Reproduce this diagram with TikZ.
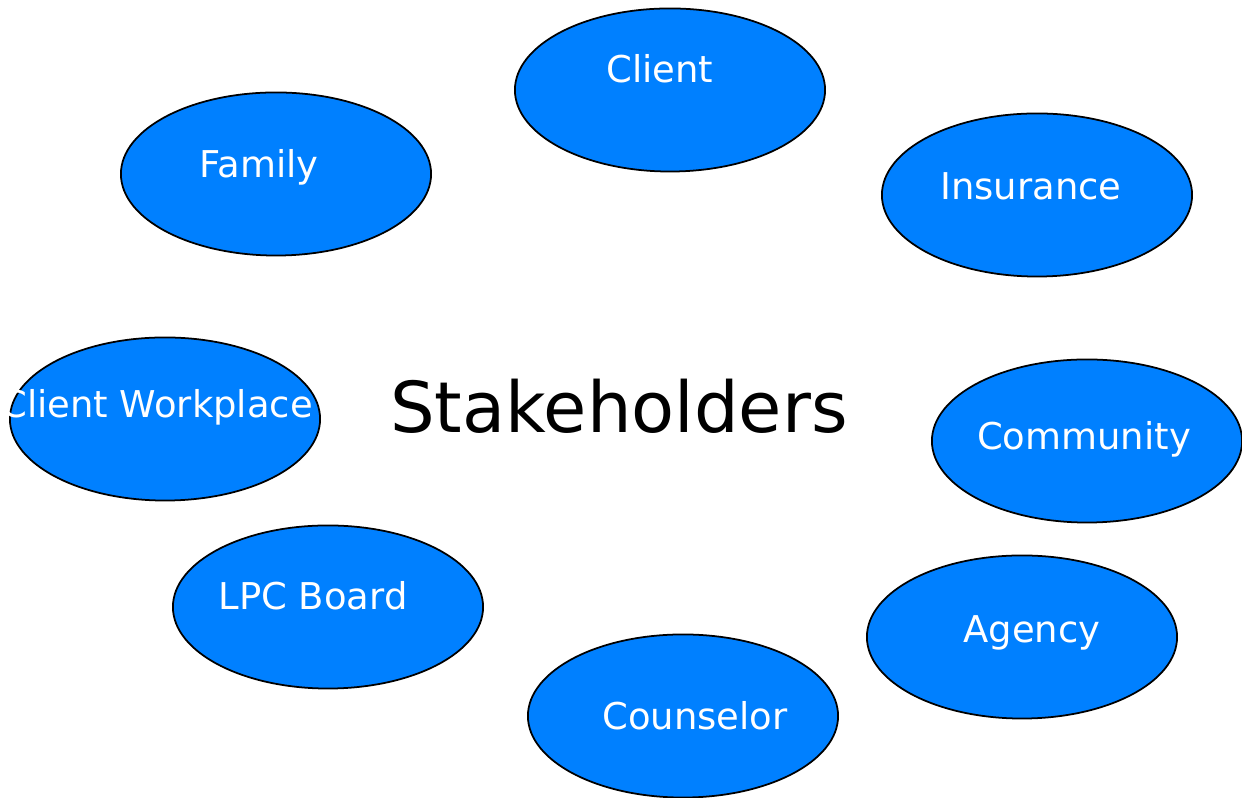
\documentclass[tikz,border=0pt]{standalone}
\usepackage{fontspec}
\setmainfont{DejaVu Sans}
\usetikzlibrary{shapes.geometric}
\definecolor{blobblue}{RGB}{0,128,255}

\begin{document}
\begin{tikzpicture}
	[x=0.01cm,y=-0.01cm,every node/.style={inner sep=0pt}]
	\tikzstyle{blob} = [ellipse, draw=black, line width=0.5pt, fill=blobblue, minimum width=3.1cm, minimum height=1.63cm];
	\tikzstyle{lbl} = [anchor=base, text=white, font=\fontsize{10.5}{12}\selectfont];
	
	\useasboundingbox (0,0) rectangle (1242,798);
	
	\node[blob] (s1) at (670,90)  {};
	\node[blob] (s2) at (1037,195) {};
	\node[blob] (s3) at (276,174) {};
	\node[blob] (s4) at (165,419) {};
	\node[blob] (s5) at (1087,441) {};
	\node[blob] (s6) at (328,607) {};
	\node[blob] (s7) at (1022,637) {};
	\node[blob] (s8) at (683,716) {};
	
	\node[lbl] (n1) at (660,83)  {Client};
	\node[lbl] (n2) at (1031,200) {Insurance};
	\node[lbl] (n3) at (259,178) {Family};
	\node[lbl] (n4) at (157,418) {Client Workplace};
	\node[lbl] (n5) at (1084,450) {Community};
	\node[lbl] (n6) at (313,610) {LPC Board};
	\node[lbl] (n7) at (1032,643) {Agency};
	\node[lbl] (n8) at (695,730) {Counselor};
	
	\node[anchor=base, font=\fontsize{20}{24}\selectfont] (st) at (619,433) {Stakeholders};
\end{tikzpicture}
\end{document}
